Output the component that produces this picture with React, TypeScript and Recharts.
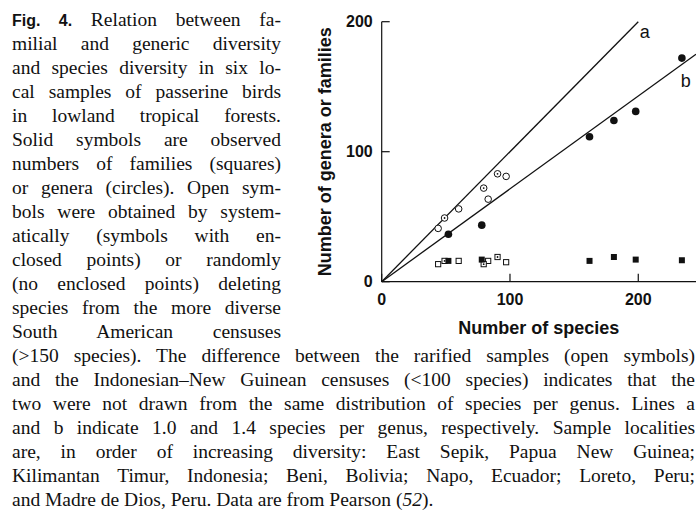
import * as React from 'react'
import {
  ScatterChart,
  Scatter,
  XAxis,
  YAxis,
  ReferenceLine,
  ReferenceDot,
} from 'recharts'

// Seis censos locales (orden creciente de diversidad)
const observedSpecies = [52, 78, 162, 181, 198, 234]
const observedGenera = [36.5, 43.5, 111.5, 124, 131, 172]
const observedFamilies = [16, 17, 16, 19, 17, 16.5]

// Rarefacción aleatoria (sin punto interior)
const randomSpecies = [44, 60, 83, 97]
const randomGenera = [41, 56, 63.5, 81]
const randomFamilies = [13.5, 16, 16, 15]

// Rarefacción sistemática (con punto interior)
const systematicSpecies = [49, 79.5, 90.3]
const systematicGenera = [49, 72, 83]
const systematicFamilies = [16, 13.5, 19]

// Líneas a (1.0 especies por género) y b (1.4)
const lineA = [
  { x: 0, y: 0 },
  { x: 200, y: 200 },
]
const lineB = [
  { x: 0, y: 0 },
  { x: 245, y: 175 },
]
const lineLabels = [
  { name: 'a', x: 205, y: 192 },
  { name: 'b', x: 237, y: 154.5 },
]

const xTicks = [0, 100, 200]
const yTicks = [0, 100, 200]

const captionColumn = [
  'milial and generic diversity',
  'and species diversity in six lo-',
  'cal samples of passerine birds',
  'in lowland tropical forests.',
  'Solid symbols are observed',
  'numbers of families (squares)',
  'or genera (circles). Open sym-',
  'bols were obtained by system-',
  'atically (symbols with en-',
  'closed points) or randomly',
  '(no enclosed points) deleting',
  'species from the more diverse',
  'South American censuses',
]
const captionWide = [
  '(>150 species). The difference between the rarified samples (open symbols)',
  'and the Indonesian–New Guinean censuses (<100 species) indicates that the',
  'two were not drawn from the same distribution of species per genus. Lines a',
  'and b indicate 1.0 and 1.4 species per genus, respectively. Sample localities',
  'are, in order of increasing diversity: East Sepik, Papua New Guinea;',
  'Kilimantan Timur, Indonesia; Beni, Bolivia; Napo, Ecuador; Loreto, Peru;',
]

const INK = '#111'
const SANS = '"Liberation Sans", Arial, sans-serif'
const SERIF = '"Liberation Serif", Tinos, "Times New Roman", "DejaVu Serif", "Noto Serif", serif'
const LINE_H = 24

const toPoints = (xs: number[], ys: number[]) => xs.map((x, i) => ({ x, y: ys[i] }))

// eslint-disable-next-line @typescript-eslint/no-explicit-any
function SolidCircle({ cx, cy }: any) {
  return <circle cx={cx} cy={cy} r={3.8} fill={INK} />
}

// eslint-disable-next-line @typescript-eslint/no-explicit-any
function OpenCircle({ cx, cy, dotted }: any) {
  return (
    <g>
      <circle cx={cx} cy={cy} r={3.3} fill="#fff" stroke={INK} strokeWidth={1} />
      {dotted ? <circle cx={cx} cy={cy} r={0.9} fill={INK} /> : null}
    </g>
  )
}

// eslint-disable-next-line @typescript-eslint/no-explicit-any
function SolidSquare({ cx, cy }: any) {
  return <rect x={cx - 3} y={cy - 3} width={6} height={6} fill={INK} />
}

// eslint-disable-next-line @typescript-eslint/no-explicit-any
function OpenSquare({ cx, cy, dotted }: any) {
  return (
    <g>
      <rect x={cx - 2.6} y={cy - 2.6} width={5.2} height={5.2} fill="#fff" stroke={INK} strokeWidth={1} />
      {dotted ? <circle cx={cx} cy={cy} r={0.9} fill={INK} /> : null}
    </g>
  )
}

const lineStyle: React.CSSProperties = {
  height: LINE_H,
  whiteSpace: 'nowrap',
  textAlign: 'justify',
  textAlignLast: 'justify',
}

function Caption() {
  return (
    <div
      style={{
        position: 'absolute',
        left: 12,
        top: 7.5,
        fontFamily: SERIF,
        fontSize: 19.5,
        lineHeight: `${LINE_H}px`,
        color: INK,
      }}
    >
      <div style={{ ...lineStyle, width: 269 }}>
        <span style={{ fontFamily: SANS, fontWeight: 'bold', fontSize: 16 }}>Fig. 4.</span> Relation between fa-
      </div>
      {captionColumn.map((t, i) => (
        <div key={i} style={{ ...lineStyle, width: 269 }}>
          {t}
        </div>
      ))}
      {captionWide.map((t, i) => (
        <div key={i} style={{ ...lineStyle, width: 683 }}>
          {t}
        </div>
      ))}
      <div style={{ height: LINE_H, whiteSpace: 'nowrap' }}>
        and Madre de Dios, Peru. Data are from Pearson (<i>52</i>).
      </div>
    </div>
  )
}

export default function App() {
  return (
    <div
      style={{
        position: 'absolute',
        left: 0,
        top: 0,
        width: 696,
        height: 511,
        overflow: 'hidden',
        background: '#fff',
      }}
    >
      <div style={{ position: 'absolute', left: 0, top: 0 }}>
        <ScatterChart width={696} height={345} margin={{ top: 21.7, right: 0, bottom: 0, left: 268.3 }}>
          <XAxis
            type="number"
            dataKey="x"
            domain={[0, 245]}
            ticks={xTicks}
            height={63.3}
            tickSize={-8}
            tickMargin={19.6}
            axisLine={{ stroke: INK, strokeWidth: 1.2 }}
            tickLine={{ stroke: INK, strokeWidth: 1.2 }}
            tick={{ fontSize: 16, fontWeight: 'bold', fill: INK, fontFamily: SANS }}
            label={{
              value: 'Number of species',
              position: 'insideBottom',
              offset: 11,
              fontSize: 18,
              fontWeight: 'bold',
              fill: INK,
              fontFamily: SANS,
            }}
          />
          <YAxis
            type="number"
            dataKey="y"
            domain={[0, 200]}
            ticks={yTicks}
            width={113.4}
            tickSize={-8}
            tickMargin={17}
            axisLine={{ stroke: INK, strokeWidth: 1.2 }}
            tickLine={{ stroke: INK, strokeWidth: 1.2 }}
            tick={{ fontSize: 16, fontWeight: 'bold', fill: INK, fontFamily: SANS }}
            label={{
              value: 'Number of genera or families',
              angle: -90,
              position: 'center',
              fontSize: 18,
              fontWeight: 'bold',
              fill: INK,
              fontFamily: SANS,
            }}
          />
          <ReferenceLine segment={lineA} stroke={INK} strokeWidth={1.3} ifOverflow="visible" />
          <ReferenceLine segment={lineB} stroke={INK} strokeWidth={1.3} ifOverflow="visible" />
          {lineLabels.map((l) => (
            <ReferenceDot
              key={l.name}
              x={l.x}
              y={l.y}
              r={0}
              fill="none"
              stroke="none"
              ifOverflow="visible"
              label={{ value: l.name, position: 'center', fontSize: 18, fill: INK, fontFamily: SANS }}
            />
          ))}
          <Scatter
            data={toPoints(randomSpecies, randomFamilies)}
            shape={(p: unknown) => <OpenSquare {...(p as object)} />}
            isAnimationActive={false}
          />
          <Scatter
            data={toPoints(systematicSpecies, systematicFamilies)}
            shape={(p: unknown) => <OpenSquare {...(p as object)} dotted />}
            isAnimationActive={false}
          />
          <Scatter
            data={toPoints(observedSpecies, observedFamilies)}
            shape={(p: unknown) => <SolidSquare {...(p as object)} />}
            isAnimationActive={false}
          />
          <Scatter
            data={toPoints(randomSpecies, randomGenera)}
            shape={(p: unknown) => <OpenCircle {...(p as object)} />}
            isAnimationActive={false}
          />
          <Scatter
            data={toPoints(systematicSpecies, systematicGenera)}
            shape={(p: unknown) => <OpenCircle {...(p as object)} dotted />}
            isAnimationActive={false}
          />
          <Scatter
            data={toPoints(observedSpecies, observedGenera)}
            shape={(p: unknown) => <SolidCircle {...(p as object)} />}
            isAnimationActive={false}
          />
        </ScatterChart>
      </div>
      <Caption />
    </div>
  )
}
